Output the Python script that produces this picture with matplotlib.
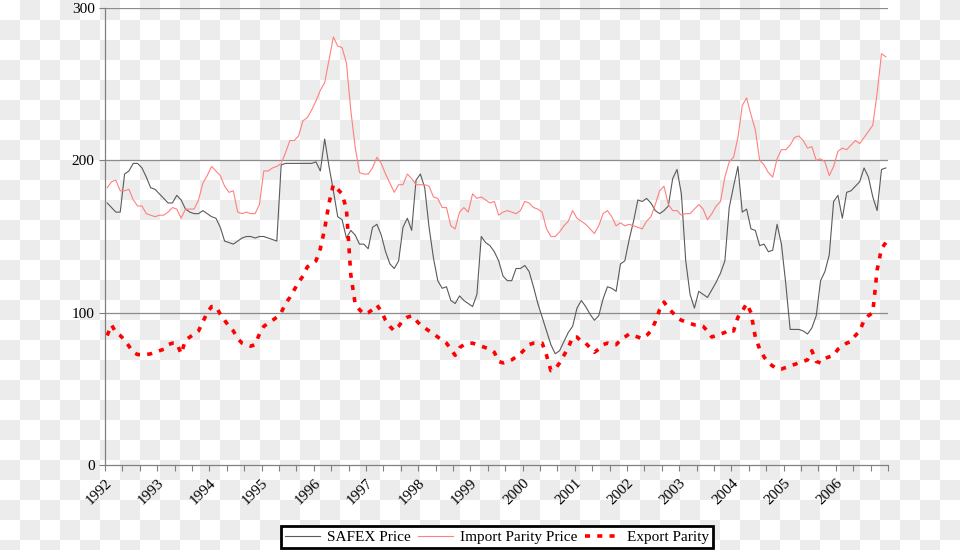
import numpy as np
import matplotlib
matplotlib.use("Agg")
import matplotlib.pyplot as plt
from matplotlib.colors import ListedColormap

plt.rcParams["font.family"] = ["Liberation Serif", "DejaVu Serif"]

# monthly series, Jan 1992 .. Dec 2006
years = [str(y) for y in range(1992, 2007)]

safex = [
    172, 169, 166, 166, 191, 193, 198, 198, 195, 189, 182, 181,
    178, 175, 172, 172, 177, 174, 168, 166, 165, 165, 167, 165,
    163, 162, 156, 147, 146, 145, 147, 149, 150, 150, 149, 150,
    150, 149, 148, 147, 197, 198, 198, 198, 198, 198, 198, 198,
    199, 193, 214, 196, 180, 163, 161, 149, 154, 151, 145, 145,
    142, 156, 158, 151, 140, 132, 129, 134, 156, 162, 154, 187,
    191, 182, 156, 136, 121, 116, 117, 108, 106, 111, 108, 106,
    104, 112, 150, 146, 144, 140, 134, 124, 121, 121, 129, 129,
    131, 127, 117, 106, 97, 88, 79, 73, 75, 81, 87, 91,
    103, 108, 104, 99, 95, 98, 109, 117, 116, 114, 132, 134,
    148, 160, 174, 173, 175, 172, 167, 165, 167, 170, 188, 194,
    178, 134, 112, 103, 114, 112, 110, 115, 120, 126, 134, 169,
    183, 196, 166, 168, 155, 154, 144, 145, 140, 141, 158, 145,
    119, 89, 89, 89, 88, 86, 90, 98, 121, 127, 138, 173,
    177, 162, 179, 180, 183, 186, 195, 189, 176, 167, 194, 195,
]

import_parity = [
    182, 186, 187, 180, 180, 181, 174, 170, 170, 165, 164, 163,
    164, 164, 166, 169, 168, 162, 168, 168, 168, 174, 185, 190,
    196, 193, 190, 183, 179, 180, 166, 165, 166, 165, 165, 171,
    193, 193, 195, 196, 198, 205, 213, 213, 216, 226, 228, 233,
    239, 246, 251, 266, 281, 275, 274, 264, 233, 209, 192, 191,
    191, 195, 202, 198, 191, 185, 179, 184, 184, 191, 188, 184,
    184, 184, 183, 176, 175, 169, 169, 157, 155, 166, 169, 166,
    178, 175, 176, 174, 172, 173, 164, 166, 167, 166, 165, 167,
    173, 172, 169, 168, 166, 155, 150, 150, 153, 157, 160, 167,
    162, 160, 158, 155, 152, 157, 165, 167, 163, 157, 159, 157,
    158, 157, 156, 155, 160, 163, 171, 180, 183, 171, 167, 167,
    164, 165, 165, 168, 171, 168, 161, 165, 170, 173, 189, 199,
    202, 215, 236, 241, 230, 220, 200, 197, 192, 189, 201, 207,
    207, 210, 215, 216, 213, 208, 209, 200, 201, 199, 190, 196,
    206, 208, 207, 210, 213, 211, 215, 219, 223, 244, 270, 268,
]

export_parity = [
    85, 92, 87, 85, 82, 78, 74, 72.5, 72.5, 72.5, 73, 74,
    75, 76, 79, 80, 80, 73, 82, 84, 86, 88, 94, 100,
    104, 104, 99, 95, 91, 88, 83, 80, 79, 78, 79, 86,
    91, 93, 95, 97, 100, 106, 110, 115, 120, 124, 130, 132,
    134, 142, 155, 172, 184, 181, 178, 168, 125, 106, 102, 99,
    100, 102, 105, 101, 95, 91, 88, 91, 95, 97, 98, 95,
    92, 90, 88, 86, 84, 82, 80, 76, 72, 77, 79, 80,
    80, 79, 78, 77, 76, 74, 68, 67, 68, 69, 71, 73,
    76, 79, 80, 80, 80, 72, 62, 63, 67, 72, 77, 84,
    84, 81, 80, 77, 74, 76, 79, 80, 79, 79, 82, 84,
    86, 85, 84, 83, 85, 88, 94, 102, 107, 103, 100, 97,
    95, 94, 93, 92, 92, 91, 88, 84, 85, 86, 87, 89,
    88, 97, 101, 106, 100, 84, 76, 71, 67, 65, 63, 63,
    64, 65, 66, 67, 68, 69, 75, 68, 67, 70, 71, 72,
    76, 78, 80, 81, 85, 88, 95, 98, 100, 128, 142, 146,
]

x = np.arange(len(safex))

fig = plt.figure(figsize=(9.6, 5.5), dpi=100)

# the reference is a transparent png shown over a checkerboard
bg = fig.add_axes([0, 0, 1, 1], zorder=-10)
checker = np.indices((28, 48)).sum(axis=0) % 2
bg.imshow(checker, cmap=ListedColormap(["white", "#ececec"]),
          extent=(0, 960, 560, 0), interpolation="nearest", aspect="auto")
bg.set_xlim(0, 960)
bg.set_ylim(550, 0)
bg.axis("off")

ax = fig.add_axes([105 / 960, 1 - 465 / 550, 783 / 960, 457 / 550])
ax.patch.set_alpha(0)

ax.plot(x, safex, color="#5a5a5a", lw=0.8, label="SAFEX Price")
ax.plot(x, import_parity, color="#ff8080", lw=0.8, label="Import Parity Price")
ax.plot(x, export_parity, color="#ff0000", lw=2.6, ls=(0, (1.4, 2.0)),
        label="Export Parity")

ax.set_xlim(-0.5, len(safex) - 0.5)
ax.set_ylim(0, 300)
ax.set_yticks([0, 100, 200, 300])
for v in (100, 200, 300):
    ax.axhline(v, color="#8c8c8c", lw=0.9, zorder=0)

# year labels sit on the tick at the start of each year
ax.set_xticks([-0.5 + 12 * k for k in range(len(years))])
ax.set_xticklabels(years)
ax.set_xticks(np.arange(-0.5, len(safex) + 0.5, 4), minor=True)
for lab in ax.get_xticklabels():
    lab.set_rotation(45)
    lab.set_ha("right")
    lab.set_va("top")
    lab.set_rotation_mode("anchor")

ax.tick_params(axis="both", which="both", colors="#808080", labelcolor="black",
               labelsize=11, direction="out", length=4, width=0.8)
ax.tick_params(axis="x", pad=4)
ax.spines["top"].set_visible(False)
ax.spines["right"].set_visible(False)
for s in ("left", "bottom"):
    ax.spines[s].set_color("#808080")
    ax.spines[s].set_linewidth(0.9)

leg = fig.legend(loc="center", bbox_to_anchor=(497 / 960, 1 - 537 / 550), ncol=3,
                 fontsize=11, frameon=True, fancybox=False, framealpha=1,
                 handlelength=2.3, columnspacing=0.5, handletextpad=0.45,
                 borderpad=0.25, borderaxespad=0)
leg.get_frame().set_edgecolor("black")
leg.get_frame().set_linewidth(2.0)

fig.savefig("out.png", dpi=100)
